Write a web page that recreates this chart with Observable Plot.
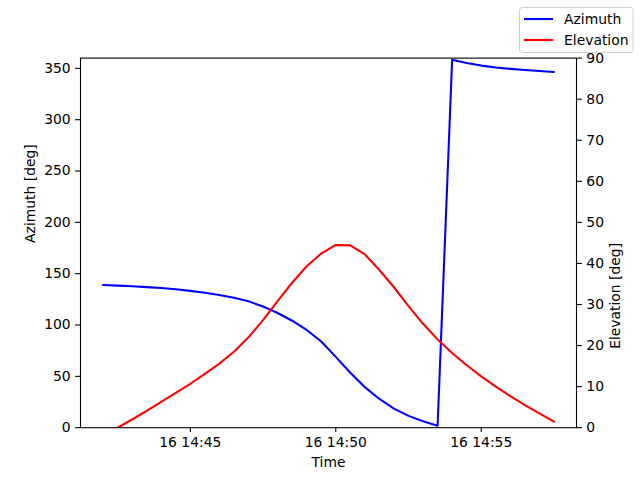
<!DOCTYPE html>
<html>
<head>
<meta charset="utf-8">
<script src="https://cdn.jsdelivr.net/npm/d3@7"></script>
<script src="https://cdn.jsdelivr.net/npm/@observablehq/plot@0.6"></script>
<style>
  body { margin: 0; background: #fff; font-family: "DejaVu Sans", sans-serif; }
  #wrap { position: relative; width: 640px; height: 480px; }
  #legend { position: absolute; left: 518.5px; top: 7px; }
</style>
</head>
<body>
<div id="wrap"><div id="chart"></div><div id="legend"></div></div>
<script>
// ---- data ----
const day = "2021-03-16";
const times = [
  "14:42:00","14:42:30","14:43:00","14:43:30","14:44:00","14:44:30","14:45:00","14:45:30",
  "14:46:00","14:46:30","14:47:00","14:47:30","14:48:00","14:48:30","14:49:00","14:49:30",
  "14:50:00","14:50:30","14:51:00","14:51:30","14:52:00","14:52:30","14:53:00","14:53:30",
  "14:54:00","14:54:30","14:55:00","14:55:30","14:56:00","14:56:30","14:57:00","14:57:30"
];
const azimuth = [
  139.0, 138.4, 137.7, 136.9, 136.0, 134.8, 133.3, 131.5,
  129.3, 126.6, 123.1, 118.0, 111.7, 104.2, 95.2, 84.0,
  69.0, 53.5, 39.5, 28.0, 18.6, 11.5, 6.2, 1.9,
  358.3, 355.2, 352.7, 350.9, 349.5, 348.4, 347.4, 346.5
];
const elevation = [
  -2.2, 0.0, 2.0, 4.1, 6.3, 8.5, 10.7, 13.1,
  15.6, 18.5, 22.0, 26.2, 30.8, 35.3, 39.3, 42.4,
  44.5, 44.4, 42.2, 38.4, 34.2, 29.6, 25.3, 21.5,
  18.2, 15.2, 12.5, 10.0, 7.7, 5.5, 3.5, 1.5
];
const seriesNames = ["Azimuth", "Elevation"];
const seriesColors = ["#0000ff", "#ff0000"];
const azTicks = [0, 50, 100, 150, 200, 250, 300, 350];
const elTicks = [0, 10, 20, 30, 40, 50, 60, 70, 80, 90];
const timeTicks = ["14:45:00", "14:50:00", "14:55:00"];
const timeDomain = ["14:41:13.500", "14:58:16.500"];
const azDomain = [0, 360];
const elDomain = [0, 90];
const labels = {x: "Time", left: "Azimuth [deg]", right: "Elevation [deg]"};

// ---- build ----
const parse = t => new Date(`${day}T${t}Z`);
const k = (azDomain[1] - azDomain[0]) / (elDomain[1] - elDomain[0]); // right axis -> shared y scale
const rows = times.map((t, i) => ({time: parse(t), az: azimuth[i], el: elevation[i]}));

const axisStyle = {tickSize: 4.9, tickPadding: 4.9, strokeWidth: 1.1, label: null};

const chart = Plot.plot({
  width: 640,
  height: 480,
  marginLeft: 80,
  marginRight: 64,
  marginTop: 57.6,
  marginBottom: 52.8,
  style: {fontFamily: "'DejaVu Sans', sans-serif", fontSize: "13.9px", color: "black", background: "white", overflow: "visible"},
  x: {type: "utc", domain: timeDomain.map(parse)},
  y: {domain: azDomain},
  marks: [
    Plot.axisX(timeTicks.map(parse), {...axisStyle, anchor: "bottom", tickFormat: d3.utcFormat("%d %H:%M")}),
    Plot.axisY(azTicks, {...axisStyle, anchor: "left"}),
    Plot.axisY(elTicks.map(v => v * k), {...axisStyle, anchor: "right", tickFormat: v => Math.round(v / k)}),
    Plot.line(rows, {x: "time", y: "az", stroke: seriesColors[0], strokeWidth: 2.08, clip: true}),
    Plot.line(rows, {x: "time", y: d => d.el * k, stroke: seriesColors[1], strokeWidth: 2.08, clip: true}),
    Plot.frame({stroke: "black", strokeWidth: 1.1}),
    Plot.text([labels.x], {text: d => d, frameAnchor: "bottom", dy: 35, lineAnchor: "middle"}),
    Plot.text([labels.left], {text: d => d, frameAnchor: "left", dx: -50, rotate: -90}),
    Plot.text([labels.right], {text: d => d, frameAnchor: "right", dx: 39, rotate: -90})
  ]
});
document.getElementById("chart").appendChild(chart);

// legend (figure legend, top right)
const lg = d3.select("#legend").append("svg").attr("width", 115).attr("height", 46)
  .style("font-family", "'DejaVu Sans', sans-serif").style("font-size", "13.9px");
lg.append("rect").attr("x", 0.5).attr("y", 0.5).attr("width", 113.5).attr("height", 45)
  .attr("rx", 3).attr("fill", "white").attr("fill-opacity", 0.8).attr("stroke", "#d0d0d0");
seriesNames.forEach((name, i) => {
  const cy = 12 + i * 21;
  lg.append("line").attr("x1", 5).attr("x2", 34).attr("y1", cy).attr("y2", cy)
    .attr("stroke", seriesColors[i]).attr("stroke-width", 2.08);
  lg.append("text").attr("x", 45).attr("y", cy).attr("dy", "0.35em").attr("fill", "black").text(name);
});
</script>
</body>
</html>
